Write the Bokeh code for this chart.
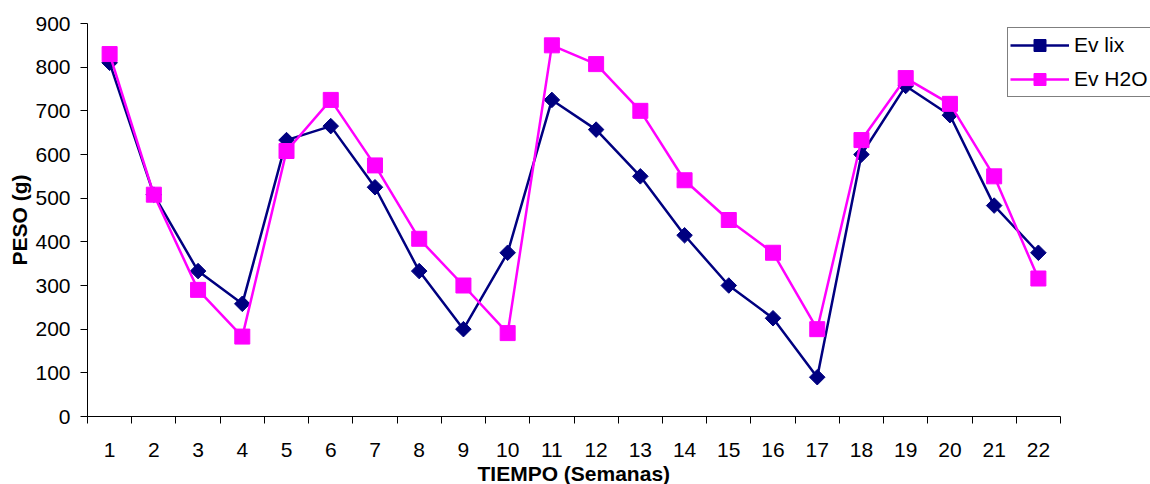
import math
from bokeh.plotting import figure
from bokeh.models import Range1d, FixedTicker, Legend, LegendItem, Title
from bokeh.embed import file_html
from bokeh.resources import INLINE

# Weekly weights (g)
weeks = list(range(1, 23))
ev_lix = [810, 508, 333, 258, 633, 665, 525, 333, 200, 375, 725,
          657, 550, 415, 300, 225, 90, 600, 757, 690, 483, 375]
ev_h2o = [830, 508, 290, 183, 608, 725, 575, 407, 300, 191, 850,
          807, 700, 541, 450, 375, 200, 633, 775, 716, 550, 316]
y_ticks = list(range(0, 1000, 100))

FONT = "Liberation Sans"
FS = "21px"
NAVY = "#000080"
MAGENTA = "#FF00FF"

# The frame runs to the right edge so the legend has room beside the data;
# the category axis itself only spans weeks 1..22.
LEFT, AXIS_RIGHT, WIDTH = 87, 1060, 1150
n = len(weeks)
x_end = 0.5 + n * (WIDTH - LEFT) / (AXIS_RIGHT - LEFT)

p = figure(width=WIDTH, height=484, output_backend="svg", toolbar_location=None,
           x_range=Range1d(0.5, x_end), y_range=Range1d(0, 900),
           min_border_left=LEFT, min_border_right=0,
           min_border_top=23, min_border_bottom=67)
p.outline_line_color = None
p.xgrid.visible = False
p.ygrid.visible = False
p.background_fill_color = "white"
p.border_fill_color = "white"

# Series
l1 = p.line(weeks, ev_lix, line_color=NAVY, line_width=2.5)
s1 = p.scatter(weeks, ev_lix, marker="square", angle=math.pi / 4, size=11,
               fill_color=NAVY, line_color=NAVY)
l2 = p.line(weeks, ev_h2o, line_color=MAGENTA, line_width=2.5)
s2 = p.scatter(weeks, ev_h2o, marker="square", size=15,
               fill_color=MAGENTA, line_color=MAGENTA)

# X axis: labels centred on each week, tick marks between weeks
xa = p.xaxis[0]
xa.bounds = (0.5, n + 0.5)
xa.ticker = FixedTicker(ticks=weeks, minor_ticks=[w - 0.5 for w in weeks] + [n + 0.5])
xa.major_tick_line_color = None
xa.major_tick_out = 0
xa.major_tick_in = 0
xa.minor_tick_out = 7
xa.minor_tick_in = 0
xa.minor_tick_line_color = "black"
xa.axis_line_color = "black"
xa.major_label_text_font = FONT
xa.major_label_text_font_size = FS
xa.major_label_text_color = "black"
xa.major_label_standoff = 19

# X axis title, placed under the middle of the week axis
x_title = Title(text="TIEMPO (Semanas)", align="left", offset=390,
                text_font=FONT, text_font_size=FS, text_font_style="bold",
                text_color="black", standoff=0)
p.add_layout(x_title, "below")

# Y axis
ya = p.yaxis[0]
ya.ticker = FixedTicker(ticks=y_ticks, minor_ticks=[])
ya.major_tick_out = 7
ya.major_tick_in = 0
ya.major_tick_line_color = "black"
ya.axis_line_color = "black"
ya.major_label_text_font = FONT
ya.major_label_text_font_size = FS
ya.major_label_text_color = "black"
ya.major_label_standoff = 10
ya.axis_label = "PESO (g)"
ya.axis_label_text_font = FONT
ya.axis_label_text_font_size = FS
ya.axis_label_text_font_style = "bold"
ya.axis_label_text_color = "black"
ya.axis_label_standoff = 1

legend = Legend(items=[LegendItem(label="Ev lix", renderers=[l1, s1]),
                       LegendItem(label="Ev H2O", renderers=[l2, s2])],
                location=(920, 319), orientation="vertical")
legend.label_text_font = FONT
legend.label_text_font_size = FS
legend.label_text_color = "black"
legend.border_line_color = "black"
legend.border_line_width = 1
legend.padding = 2
legend.spacing = 4
legend.glyph_height = 30
legend.glyph_width = 59
legend.label_standoff = 5
legend.margin = 0
legend.background_fill_alpha = 1
p.add_layout(legend)

open("out.html", "w").write(file_html(p, INLINE))
